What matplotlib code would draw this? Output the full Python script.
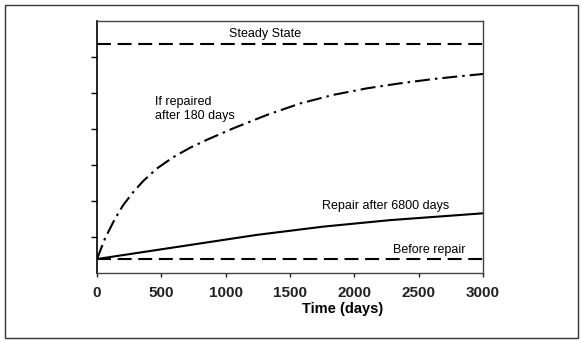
import matplotlib.pyplot as plt
import numpy as np

plt.rcParams['font.family'] = ['Liberation Sans', 'DejaVu Sans']

# values (y axis has no units / labels)
days_180 = [0, 62, 140, 204, 282, 360, 464, 593, 723, 853, 1059, 1319, 1578,
            1837, 2096, 2355, 2614, 2800, 3000]
level_180 = [0.38, 0.95, 1.50, 1.88, 2.24, 2.55, 2.89, 3.21, 3.47, 3.69, 4.01,
             4.38, 4.70, 4.94, 5.12, 5.26, 5.38, 5.45, 5.52]

days_6800 = [0, 723, 1241, 1759, 2277, 3000]
level_6800 = [0.38, 0.77, 1.05, 1.28, 1.46, 1.65]

steady_state = 6.34
before_repair = 0.38

x_ticks = [0, 500, 1000, 1500, 2000, 2500, 3000]
y_ticks = [1, 2, 3, 4, 5, 6]

fig = plt.figure(figsize=(5.81, 3.41), dpi=100)
# outer box around the whole picture
fig.patches.append(plt.Rectangle((5 / 581, 3 / 341), 573 / 581, 333 / 341,
                                 transform=fig.transFigure, fill=False,
                                 edgecolor='#333333', linewidth=1))

ax = fig.add_axes([97 / 581, 68.3 / 341, 386 / 581, 252 / 341])

ax.axhline(steady_state, color='black', lw=1.5, ls=(0, (6.7, 3.2)))
ax.axhline(before_repair, color='black', lw=1.5, ls=(0, (6.7, 3.2)))
ax.plot(days_180, level_180, color='black', lw=1.5, ls=(0, (7.2, 2.4, 1.2, 2.4)))
ax.plot(days_6800, level_6800, color='black', lw=1.5)

ax.text(1305, 6.56, 'Steady State', ha='center', va='baseline', fontsize=9)
ax.text(451, 4.66, 'If repaired', ha='left', va='baseline', fontsize=9)
ax.text(451, 4.27, 'after 180 days', ha='left', va='baseline', fontsize=9)
ax.text(2245, 1.77, 'Repair after 6800 days', ha='center', va='baseline', fontsize=9)
ax.text(2582, 0.56, 'Before repair', ha='center', va='baseline', fontsize=9)

ax.set_xlim(0, 3000)
ax.set_ylim(0, 7)
ax.set_xticks(x_ticks)
ax.set_yticks(y_ticks)
ax.set_yticklabels([])
ax.tick_params(axis='x', direction='out', length=3, width=1, pad=6.5,
               labelsize=11, colors='#222222')
ax.tick_params(axis='y', direction='out', length=4.5, width=1)
for lab in ax.get_xticklabels():
    lab.set_fontweight('bold')

for side in ['top', 'right', 'bottom']:
    ax.spines[side].set_color('#444444')
    ax.spines[side].set_linewidth(1)
ax.spines['left'].set_color('black')
ax.spines['left'].set_linewidth(1.2)

ax.set_xlabel('Time (days)', fontsize=10.5, fontweight='bold')
ax.xaxis.label.set_va('baseline')
ax.xaxis.set_label_coords(0.637, -0.16)

plt.savefig('out.png', dpi=100)
